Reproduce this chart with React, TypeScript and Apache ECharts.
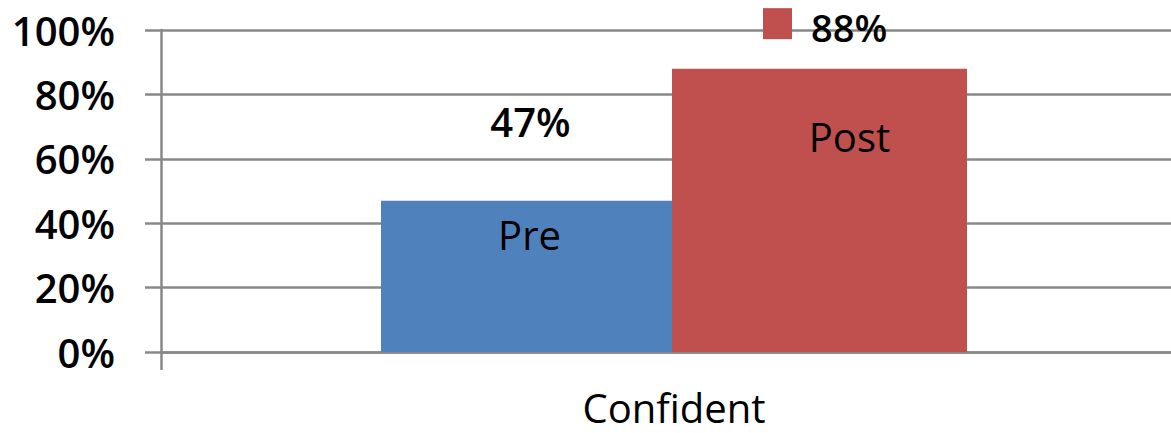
import React, { useEffect, useRef } from "react";
import * as echarts from "echarts";

const categories = ["Confident"];
const seriesNames = ["Pre", "Post"];
const preValues = [47];
const postValues = [88];
const yTicks = [0, 20, 40, 60, 80, 100];

export default function App() {
  const ref = useRef<HTMLDivElement>(null);
  useEffect(() => {
    if (!ref.current) return;
    const chart = echarts.init(ref.current, undefined, { renderer: "svg" });
    const font = "'Open Sans', 'Liberation Sans', sans-serif";
    const axisColor = "#888888";
    chart.setOption({
      animation: false,
      textStyle: { fontFamily: font },
      grid: { left: 161, right: 0, top: 30, bottom: 81, containLabel: false },
      xAxis: {
        type: "category",
        data: categories,
        axisLine: { show: true, lineStyle: { color: axisColor, width: 2.5 } },
        axisTick: { show: true, length: 18, lineStyle: { color: axisColor, width: 2.5 } },
        axisLabel: { color: "#000", fontSize: 40, lineHeight: 40, fontFamily: font, margin: 35 },
      },
      yAxis: {
        type: "value",
        min: yTicks[0],
        max: yTicks[yTicks.length - 1],
        interval: 20,
        axisLine: { show: true, lineStyle: { color: axisColor, width: 2.5 } },
        axisTick: { show: true, length: 16, lineStyle: { color: axisColor, width: 2.5 } },
        axisLabel: { color: "#000", fontSize: 40, fontWeight: 600, fontFamily: font, margin: 46, formatter: "{value}%" },
        splitLine: { show: true, lineStyle: { color: axisColor, width: 2.5 } },
      },
      series: [
        {
          name: seriesNames[0],
          type: "bar",
          data: preValues,
          barWidth: 291,
          barGap: "0%",
          itemStyle: { color: "#4F81BD" },
          label: {
            show: true,
            position: "insideTop",
            distance: 14,
            offset: [3, 0],
            formatter: "{a}",
            color: "#000",
            fontSize: 40,
            fontFamily: font,
          },
          markPoint: {
            symbol: "rect",
            symbolSize: 1,
            itemStyle: { color: "rgba(0,0,0,0)" },
            label: {
              show: true,
              position: "inside",
              offset: [4, -79],
              formatter: (p: any) => p.value + "%",
              color: "#000",
              fontSize: 40,
              fontWeight: 600,
              fontFamily: font,
            },
            data: [{ coord: [categories[0], preValues[0]], value: preValues[0] }],
          },
        },
        {
          name: seriesNames[1],
          type: "bar",
          data: postValues,
          barWidth: 295,
          barGap: "0%",
          itemStyle: { color: "#C0504D" },
          label: {
            show: true,
            position: "insideTop",
            distance: 48,
            offset: [30, 0],
            formatter: "{a}",
            color: "#000",
            fontSize: 40,
            fontFamily: font,
          },
          markPoint: {
            symbol: "rect",
            symbolSize: [29, 31],
            symbolOffset: [-42, -45],
            itemStyle: { color: "#C0504D" },
            label: {
              show: true,
              position: "right",
              distance: 19,
              offset: [0, 3],
              formatter: (p: any) => p.value + "%",
              color: "#000",
              fontSize: 38,
              lineHeight: 36,
              fontWeight: 600,
              fontFamily: font,
            },
            data: [{ coord: [categories[0], postValues[0]], value: postValues[0] }],
          },
        },
      ],
    });
    return () => chart.dispose();
  }, []);
  return (
    <div
      style={{ position: "absolute", left: 0, top: 0, width: 1171, height: 433, overflow: "hidden", background: "#fff" }}
    >
      <div ref={ref} style={{ width: 1187, height: 433 }} />
    </div>
  );
}
